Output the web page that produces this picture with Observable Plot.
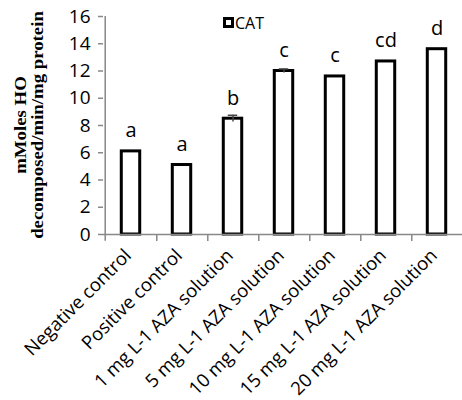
<!DOCTYPE html>
<html>
<head>
<meta charset="utf-8">
<script src="https://cdn.jsdelivr.net/npm/d3@7"></script>
<script src="https://cdn.jsdelivr.net/npm/@observablehq/plot@0.6"></script>
<style>
  html, body { margin: 0; padding: 0; background: white; }
  #chart { position: relative; width: 462px; height: 400px; }
</style>
</head>
<body>
<div id="chart"></div>
<script>
const categories = [
  "Negative control",
  "Positive control",
  "1 mg L-1 AZA solution",
  "5 mg L-1 AZA solution",
  "10 mg L-1 AZA solution",
  "15 mg L-1 AZA solution",
  "20 mg L-1 AZA solution"
];
const catValues = [6.1, 5.1, 8.5, 12.0, 11.6, 12.7, 13.6];
const catErrors = [0, 0, 0.25, 0.15, 0, 0, 0];
const sigLetters = ["a", "a", "b", "c", "c", "cd", "d"];
const yTicks = [0, 2, 4, 6, 8, 10, 12, 14, 16];
const seriesName = "CAT";
const yTitleLines = ["mMoles HO", "decomposed/min/mg protein"];

const data = categories.map((c, i) => ({cat: c, v: catValues[i], e: catErrors[i], l: sigLetters[i]}));
const errData = data.filter(d => d.e > 0);

const W = 462, H = 400, ML = 103, MR = -2, MT = 16, MB = 166;
const step = (W - ML - MR) / categories.length;
const axisColor = "#888";

const chart = Plot.plot({
  width: W, height: H,
  marginLeft: ML, marginRight: MR, marginTop: MT, marginBottom: MB,
  style: {fontFamily: "'Open Sans', sans-serif", background: "white", color: "black", overflow: "visible"},
  x: {domain: categories, padding: 0},
  y: {domain: [0, 16]},
  marks: [
    Plot.barY(data, {x: "cat", y: "v", fill: "white", stroke: "black", strokeWidth: 3,
      insetLeft: (step - 19) / 2, insetRight: (step - 19) / 2}),
    Plot.ruleX(errData, {x: "cat", y1: d => d.v - d.e, y2: d => d.v + d.e, stroke: "#444", strokeWidth: 1.5}),
    Plot.tickY(errData, {x: "cat", y: d => d.v + d.e, stroke: "#444", strokeWidth: 1.5,
      insetLeft: (step - 10) / 2, insetRight: (step - 10) / 2}),
    Plot.text(data, {x: "cat", y: "v", text: "l", dy: -14, lineAnchor: "bottom", fontSize: 20, fill: "black"}),
    Plot.ruleY([0], {stroke: axisColor, strokeWidth: 1.5}),
    Plot.ruleX([categories[0]], {y1: -0.5, y2: 16, dx: -step / 2, stroke: axisColor, strokeWidth: 1.5}),
    Plot.axisY({ticks: yTicks, tickSize: 5, tickPadding: 8, fontSize: 19, stroke: axisColor, strokeWidth: 1.5, fill: "black", label: null}),
    Plot.axisX({tickSize: 0, tickRotate: -45, tickPadding: 18, dx: -3, fontSize: 18.5, fill: "black", label: null}),
    Plot.axisX({tickSize: 7, tickFormat: () => "", dx: step / 2, stroke: axisColor, strokeWidth: 1.5, label: null})
  ]
});

document.getElementById("chart").appendChild(chart);

const svg = d3.select(chart);
// Y-axis title (two rotated lines, glyphs slightly compressed like the reference)
const title = svg.append("text")
  .attr("transform", "translate(0,125) rotate(-90) scale(1,0.85)")
  .attr("text-anchor", "middle")
  .attr("font-family", "'Liberation Serif', 'Times New Roman', serif")
  .attr("font-weight", "bold")
  .attr("font-size", 18.8)
  .attr("fill", "black");
title.append("tspan").attr("x", 0).attr("y", 31).text(yTitleLines[0]);
title.append("tspan").attr("x", 0).attr("y", 51).text(yTitleLines[1]);

// Legend
const lg = svg.append("g");
lg.append("rect").attr("x", 224.5).attr("y", 18.5).attr("width", 8).attr("height", 8)
  .attr("fill", "white").attr("stroke", "black").attr("stroke-width", 3);
lg.append("text").attr("x", 235).attr("y", 28.5).attr("text-anchor", "start")
  .attr("font-family", "'Open Sans', sans-serif").attr("font-size", 16).attr("fill", "black")
  .text(seriesName);
</script>
</body>
</html>
